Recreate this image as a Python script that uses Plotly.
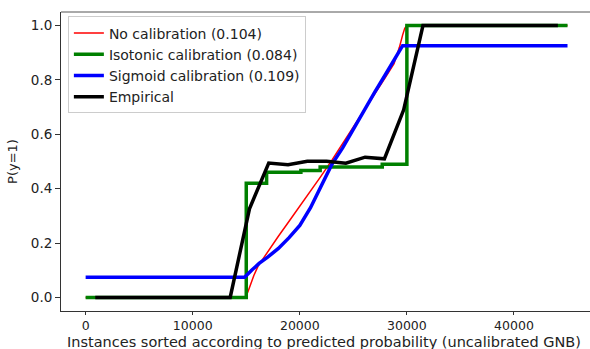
import numpy as np
import plotly.graph_objects as go

N = 45000

# No calibration (sorted GNB probabilities)
red_x = [0, 14900, 15150, 15400, 15700, 16100, 16600, 17200, 18000, 19000, 20000, 21000,
         22000, 23000, 24000, 25000, 26000, 27000, 28000, 28800, 29300, 29600, 29800, 30000, 45000]
red_y = [0.0, 0.0, 0.02, 0.05, 0.08, 0.115, 0.145, 0.18, 0.225, 0.28, 0.335, 0.39,
         0.447, 0.505, 0.565, 0.625, 0.685, 0.745, 0.81, 0.86, 0.92, 0.965, 0.99, 1.0, 1.0]

# Isotonic calibration (step function)
green_x = [0, 15000, 16900, 20100, 21900, 27700, 30000, 45000]
green_y = [0.0, 0.42, 0.46, 0.467, 0.48, 0.49, 1.0, 1.0]

# Sigmoid calibration
blue_x = [0, 14850, 15500, 16200, 17000, 18000, 19000, 20000, 21000, 22000, 23000,
          24000, 25000, 26000, 27000, 28000, 29000, 29600, 45000]
blue_y = [0.074, 0.074, 0.10, 0.125, 0.148, 0.18, 0.22, 0.265, 0.33, 0.41, 0.49,
          0.55, 0.62, 0.69, 0.755, 0.82, 0.885, 0.926, 0.926]

# Empirical (25 bins)
emp_y = [0, 0, 0, 0, 0, 0, 0, 0, 0.326, 0.494, 0.488, 0.501, 0.501, 0.494, 0.516, 0.51,
         0.69, 1, 1, 1, 1, 1, 1, 1, 1]
emp_x = np.linspace(0, N, 51)[1::2]

labels = ["No calibration (0.104)", "Isotonic calibration (0.084)",
          "Sigmoid calibration (0.109)", "Empirical"]
x_ticks = [0, 10000, 20000, 30000, 40000]
x_ticktext = ["0", "10000", "20000", "30000", "40000"]
y_ticks = [0, 0.2, 0.4, 0.6, 0.8, 1.0]
y_ticktext = ["0.0", "0.2", "0.4", "0.6", "0.8", "1.0"]
x_title = "Instances sorted according to predicted probability (uncalibrated GNB)"
y_title = "P(y=1)"

font = "DejaVu Sans"
fig = go.Figure()
fig.add_trace(go.Scatter(x=red_x, y=red_y, mode="lines", name=labels[0],
                         line=dict(color="#ff0000", width=1.5)))
fig.add_trace(go.Scatter(x=green_x, y=green_y, mode="lines", name=labels[1],
                         line=dict(color="#008000", width=3.5, shape="hv")))
fig.add_trace(go.Scatter(x=blue_x, y=blue_y, mode="lines", name=labels[2],
                         line=dict(color="#0000ff", width=3.5)))
fig.add_trace(go.Scatter(x=emp_x, y=emp_y, mode="lines", name=labels[3],
                         line=dict(color="#000000", width=3.5)))

fig.update_layout(
    width=590, height=349,
    margin=dict(l=61, r=0, t=12, b=38),
    paper_bgcolor="white", plot_bgcolor="white",
    font=dict(family=font, size=13, color="#222"),
    legend=dict(x=0.013, y=0.985, xanchor="left", yanchor="top",
                bgcolor="rgba(255,255,255,0.8)", bordercolor="#cccccc", borderwidth=1,
                font=dict(size=14), itemwidth=30, tracegroupgap=0),
    xaxis=dict(range=[-2300, 47100], showgrid=False, zeroline=False,
               showline=True, linecolor="#333", linewidth=1, mirror=False,
               ticks="outside", ticklen=3, tickcolor="#333",
               tickvals=x_ticks, ticktext=x_ticktext,
               tickfont=dict(size=12.5),
               automargin=False),
    yaxis=dict(range=[-0.05, 1.05], showgrid=False, zeroline=False,
               showline=True, linecolor="#333", linewidth=1,
               ticks="outside", ticklen=5, tickcolor="#333",
               tickvals=y_ticks, ticktext=y_ticktext,
               tickfont=dict(size=13.5),
               title=dict(text=y_title, font=dict(size=13), standoff=10),
               automargin=False),
    shapes=[dict(type="line", xref="paper", yref="paper", x0=0, x1=1, y0=1, y1=1,
                 line=dict(color="#555", width=1))],
    annotations=[dict(text=x_title, xref="paper", yref="paper",
                      x=(324 - 61) / 529, y=-30.5 / 299, xanchor="center", yanchor="middle",
                      showarrow=False, font=dict(size=14.5))],
)

fig.write_html("out.html")
